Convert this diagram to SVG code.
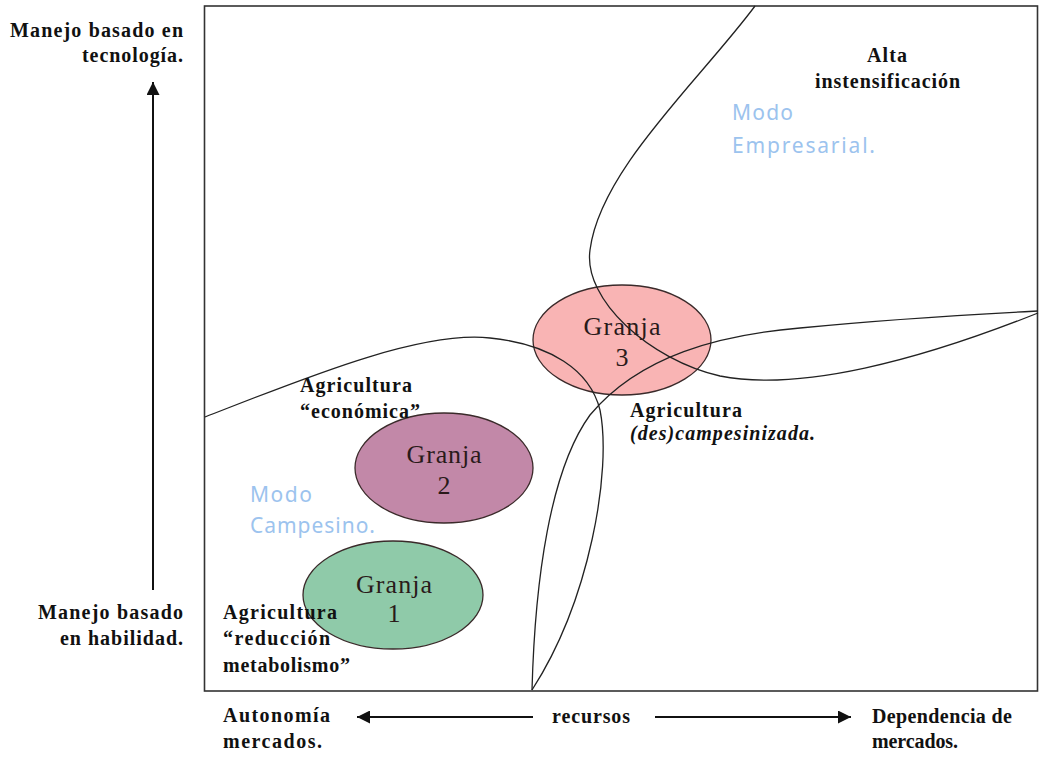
<svg xmlns="http://www.w3.org/2000/svg" width="1040" height="758" viewBox="0 0 1040 758">
  <defs>
    <style>
      .lbl { font-family: "Liberation Serif", "Times New Roman", serif; font-weight: bold; font-size: 20px; fill: #111; }
      .ital { font-style: italic; }
      .mode { font-family: "Noto Sans", "DejaVu Sans", sans-serif; font-size: 21px; fill: #9cc3ee; }
      .farm { font-family: "Liberation Serif", "Times New Roman", serif; font-size: 26px; fill: #2a1a1a; text-anchor: middle; }
      .farm-shape { stroke: #3a2a2a; stroke-width: 1.3; }
      .curve { fill: none; stroke: #222; stroke-width: 1.3; }
      .axis { stroke: #111; stroke-width: 2; fill: none; }
    </style>
    <marker id="head" viewBox="0 0 10 10" refX="10" refY="5" markerWidth="17" markerHeight="13" markerUnits="userSpaceOnUse" orient="auto">
      <path d="M0,0 L10,5 L0,10 Z" fill="#111"/>
    </marker>
  </defs>

  <rect width="1040" height="758" fill="#fff"/>

  <!-- plot frame -->
  <rect id="frame" x="204.5" y="6" width="833" height="685" fill="none" stroke="#333" stroke-width="1.6"/>

  <!-- axis arrows -->
  <g id="axes">
    <line class="axis" x1="153" y1="590" x2="153" y2="82" marker-end="url(#head)"/>
    <line class="axis" x1="533" y1="717" x2="357" y2="717" marker-end="url(#head)"/>
    <line class="axis" x1="655" y1="717" x2="851" y2="717" marker-end="url(#head)"/>
  </g>

  <!-- farm ellipses -->
  <g id="granja3">
    <ellipse class="farm-shape" cx="622" cy="340" rx="89" ry="55" fill="#f9b4b4"/>
  </g>
  <g id="granja2">
    <ellipse class="farm-shape" cx="444" cy="468" rx="89" ry="55" fill="#c288a8"/>
    <text class="farm" x="444" y="463" textLength="75">Granja</text>
    <text class="farm" x="444" y="494">2</text>
  </g>
  <g id="granja1">
    <ellipse class="farm-shape" cx="393" cy="595" rx="90" ry="54" fill="#8fcaa9"/>
    <text class="farm" x="394" y="593" textLength="76">Granja</text>
    <text class="farm" x="394" y="622">1</text>
  </g>

  <!-- boundary curves -->
  <g id="connectors">
    <path class="curve" d="M755,6 C700,80 600,170 590,250 C583,300 650,360 720,376 C800,392 920,360 1038,313"/>
    <path class="curve" d="M205,417 C300,380 420,330 490,338 C550,344 590,370 600,410 C612,470 590,600 532,690"/>
    <path class="curve" d="M532,690 C535,580 550,470 590,415 C640,355 720,335 800,328 C900,318 980,314 1038,311"/>
  </g>

  <g id="granja3-label">
    <text class="farm" x="622" y="335" textLength="77">Granja</text>
    <text class="farm" x="622" y="366">3</text>
  </g>

  <!-- axis labels -->
  <g id="axis-labels">
    <text class="lbl" x="183" y="37" text-anchor="end" textLength="173">Manejo basado en</text>
    <text class="lbl" x="183" y="62" text-anchor="end" textLength="101">tecnología.</text>
    <text class="lbl" x="183" y="619" text-anchor="end" textLength="145">Manejo basado</text>
    <text class="lbl" x="183" y="645" text-anchor="end" textLength="123">en habilidad.</text>
    <text class="lbl" x="223" y="722" textLength="107">Autonomía</text>
    <text class="lbl" x="223" y="748" textLength="99">mercados.</text>
    <text class="lbl" x="552" y="723" textLength="78">recursos</text>
    <text class="lbl" x="872" y="723" textLength="140">Dependencia de</text>
    <text class="lbl" x="872" y="748" textLength="86">mercados.</text>
  </g>

  <!-- region labels -->
  <g id="region-labels">
    <text class="lbl" x="867" y="62" textLength="40">Alta</text>
    <text class="lbl" x="815" y="88" textLength="145">instensificación</text>
    <text class="lbl" x="300" y="392" textLength="112">Agricultura</text>
    <text class="lbl" x="300" y="418" textLength="120">“económica”</text>
    <text class="lbl" x="630" y="417" textLength="112">Agricultura</text>
    <text class="lbl ital" x="630" y="440" textLength="185">(des)campesinizada.</text>
    <text class="lbl" x="223" y="619" textLength="114">Agricultura</text>
    <text class="lbl" x="223" y="645" textLength="107">“reducción</text>
    <text class="lbl" x="223" y="672" textLength="127">metabolismo”</text>
  </g>

  <!-- mode labels -->
  <g id="mode-labels">
    <text class="mode" x="732" y="120" textLength="61">Modo</text>
    <text class="mode" x="732" y="153" textLength="143">Empresarial.</text>
    <text class="mode" x="250" y="502" textLength="62">Modo</text>
    <text class="mode" x="250" y="533" textLength="125">Campesino.</text>
  </g>
</svg>
